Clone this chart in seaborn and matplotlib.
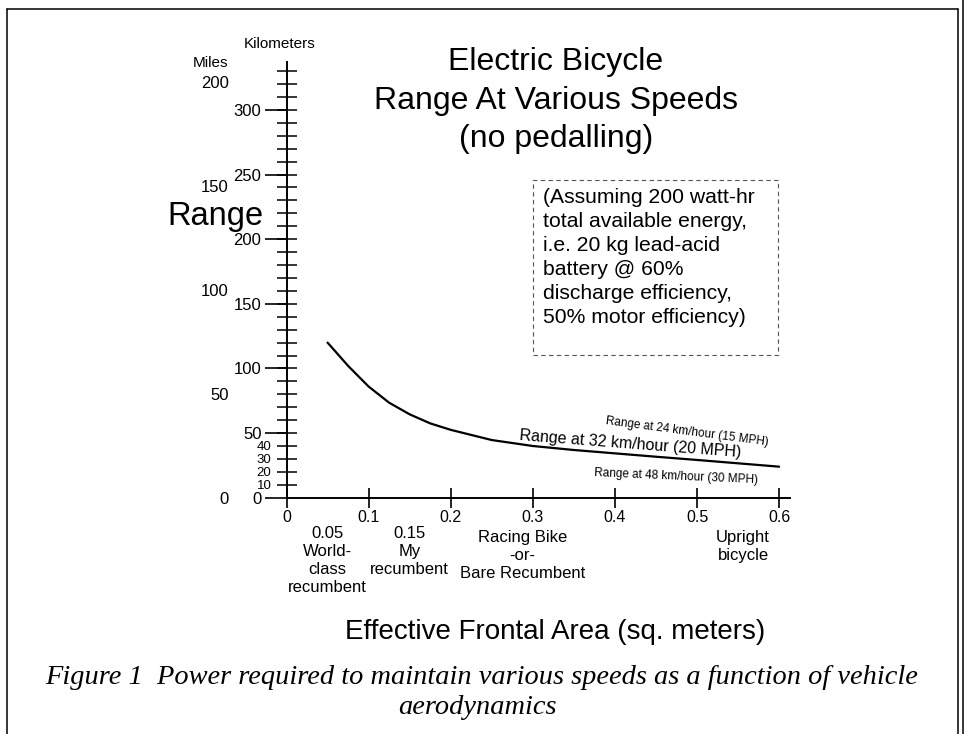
import numpy as np
import pandas as pd
import seaborn as sns
import matplotlib.pyplot as plt
from matplotlib.lines import Line2D
from matplotlib.patches import Rectangle

# curve: range (km) at 32 km/h vs effective frontal area (m^2)
frontal_area = [0.05, 0.075, 0.1, 0.125, 0.15, 0.175, 0.2, 0.25, 0.3, 0.35, 0.4, 0.45, 0.5, 0.55, 0.6]
range_km = [120, 102, 86, 73.5, 64.5, 57.5, 52.5, 44.6, 40, 36.9, 34.3, 31.7, 29.2, 26.6, 24]

area_ticks = [0, 0.1, 0.2, 0.3, 0.4, 0.5, 0.6]
area_tick_labels = ['0', '0.1', '0.2', '0.3', '0.4', '0.5', '0.6']
km_major = [0, 50, 100, 150, 200, 250, 300]
km_minor = list(range(10, 340, 10))
km_small_labels = [10, 20, 30, 40]
miles_ticks = [0, 50, 100, 150, 200]
KM_PER_MILE = 1.609344

area_notes = ['0.05\nWorld-\nclass\nrecumbent', '0.15\nMy\nrecumbent',
              'Racing Bike\n-or-\nBare Recumbent', 'Upright\nbicycle']
area_note_x = [0.05, 0.15, 0.287, 0.556]

title_lines = ['Electric Bicycle', 'Range At Various Speeds', '(no pedalling)']
box_lines = ['(Assuming 200 watt-hr', 'total available energy,', 'i.e. 20 kg lead-acid',
             'battery @ 60%', 'discharge efficiency,', '50% motor efficiency)']
curve_labels = ['Range at 24 km/hour (15 MPH)', 'Range at 32 km/hour (20 MPH)',
                'Range at 48 km/hour (30 MPH)']
caption = ['Figure 1  Power required to maintain various speeds as a function of vehicle',
           'aerodynamics']

W, H = 969, 734


def fx(x):
    return x / W


def fy(y):
    return 1 - y / H


sns.set_style('ticks')
plt.rcParams['font.family'] = ['Liberation Sans', 'DejaVu Sans']
plt.rcParams['text.color'] = 'black'
plt.rcParams['axes.labelcolor'] = 'black'
plt.rcParams['xtick.color'] = 'black'
plt.rcParams['ytick.color'] = 'black'

fig = plt.figure(figsize=(9.69, 7.34), dpi=100)
ax = fig.add_axes([fx(286.5), fy(497.7), (789.8 - 286.5) / W, (497.7 - 61.7) / H])

df = pd.DataFrame({'area': frontal_area, 'range_km': range_km})
sns.lineplot(data=df, x='area', y='range_km', ax=ax, color='black', linewidth=1.6)
ax.set_xlim(0, 0.613)
ax.set_ylim(0, 337.3)
ax.set_xlabel('')
ax.set_ylabel('')
sns.despine(ax=ax)
for s in ['left', 'bottom']:
    ax.spines[s].set_linewidth(1.4)
    ax.spines[s].set_color('black')

ax.set_xticks(area_ticks, labels=area_tick_labels)
ax.tick_params(axis='x', which='major', direction='inout', length=14.4, width=1.2,
               labelsize=11.5, pad=1.8)

ax.set_yticks(km_major, labels=[str(v) for v in km_major])
ax.set_yticks(km_minor, labels=[str(v) if v in km_small_labels else '' for v in km_minor], minor=True)
ax.yaxis.remove_overlapping_locs = False
ax.tick_params(axis='y', which='major', direction='out', length=15.8, width=1.2,
               labelsize=12, pad=2.2)
ax.tick_params(axis='y', which='minor', direction='inout', length=14.4, width=1.1,
               labelsize=9.5, pad=3.6)

# miles scale, labels only
sec = ax.secondary_yaxis((229 - 286.5) / 503.3,
                         functions=(lambda km: km / KM_PER_MILE, lambda mi: mi * KM_PER_MILE))
sec.set_yticks(miles_ticks)
sec.tick_params(length=0, labelsize=12, pad=0)
for sp in sec.spines.values():
    sp.set_visible(False)

fig.text(fx(280), fy(48), 'Kilometers', fontsize=11, ha='center', va='baseline')
fig.text(fx(210), fy(66.7), 'Miles', fontsize=11, ha='center', va='baseline')
fig.text(fx(167), fy(225), 'Range', fontsize=23.5, ha='left', va='baseline')

for txt, yb in zip(title_lines, [70, 109, 147]):
    fig.text(fx(556), fy(yb), txt, fontsize=23, ha='center', va='baseline')

# assumption box
fig.add_artist(Rectangle((fx(533.3), fy(355)), (777.5 - 533.3) / W, (355 - 180) / H,
                         transform=fig.transFigure, fill=False, linestyle=(0, (4, 3)),
                         linewidth=0.8, edgecolor='#555555'))
for i, txt in enumerate(box_lines):
    fig.text(fx(543), fy(203 + i * 24), txt, fontsize=15.2, ha='left', va='baseline')

# curve labels
fig.text(fx(686.7), fy(431.7), curve_labels[0], fontsize=8.5, rotation=-7.5,
         ha='center', va='center', rotation_mode='anchor')
fig.text(fx(630), fy(444), curve_labels[1], fontsize=11.5, rotation=-4.4,
         ha='center', va='center', rotation_mode='anchor')
fig.text(fx(676), fy(477), curve_labels[2], fontsize=8.5, rotation=-2.5,
         ha='center', va='center', rotation_mode='anchor')

# notes under the x axis
trans = ax.get_xaxis_transform()
note_top = [526, 526, 530, 530]
for txt, xv, yt in zip(area_notes, area_note_x, note_top):
    ax.text(xv, (497.7 - yt) / 436, txt, transform=trans, fontsize=12, ha='center',
            va='top', multialignment='center', linespacing=1.25)

ax.set_xlabel('Effective Frontal Area (sq. meters)', fontsize=20)
ax.xaxis.set_label_coords((555 - 286.5) / 503.3, (497.7 - 619) / 436)

fig.text(fx(482), fy(677), caption[0], family=['Liberation Serif'], style='italic',
         fontsize=20.4, ha='center', va='center')
fig.text(fx(477), fy(707), caption[1], family=['Liberation Serif'], style='italic',
         fontsize=20.4, ha='center', va='center')

# page frame
frame = [((7, 7), (9, 734)), ((7, 958), (9, 9)), ((958, 958), (9, 734)), ((963, 963), (0, 734))]
for xs, ys in frame:
    fig.add_artist(Line2D([fx(x) for x in xs], [fy(y) for y in ys], transform=fig.transFigure,
                          color='black', linewidth=1.1))

fig.savefig('out.png', dpi=100)
